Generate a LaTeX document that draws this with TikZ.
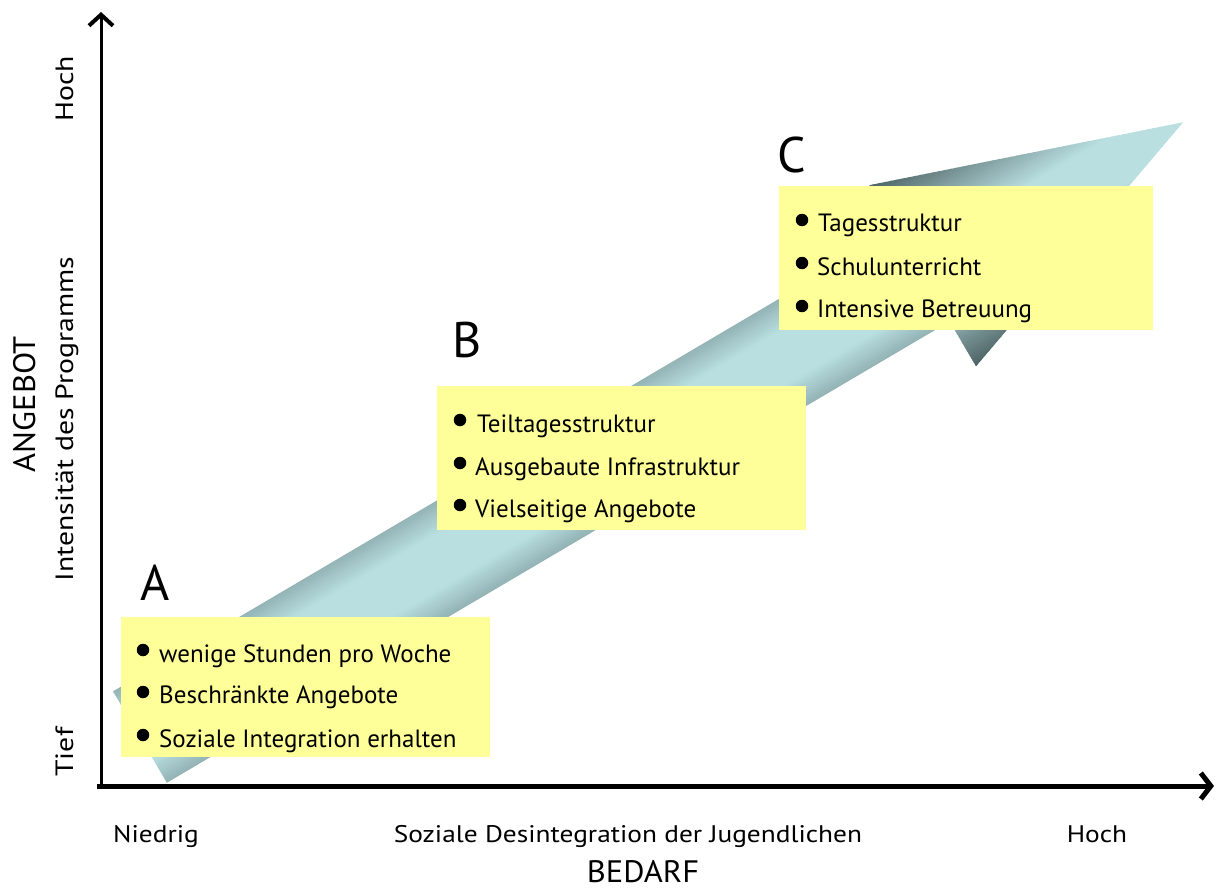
\documentclass[tikz,border=0pt]{standalone}
\usepackage{fontspec}
\setmainfont{PT Sans}
\newfontfamily\hlblfont[FakeStretch=1.14]{PT Sans}
\newfontfamily\vlblfont[FakeStretch=1.19]{PT Sans}
\newfontfamily\ttlfont[FakeStretch=1.05]{PT Sans}
\usetikzlibrary{arrows.meta}
\definecolor{boxyellow}{HTML}{FFFF99}
\definecolor{arrlight}{HTML}{B9DFE1}
\definecolor{arrdark}{HTML}{4F6466}
\tikzset{
  ybox/.style={fill=boxyellow, draw=none, inner sep=0pt, anchor=north west},
  itemtext/.style={anchor=base west, inner sep=0pt, font=\fontsize{25}{30}\selectfont},
  bulletdot/.style={circle, fill=black, inner sep=0pt, minimum size=12.5pt},
  letter/.style={anchor=base, inner sep=0pt, font=\fontsize{50}{60}\selectfont},
  hlabel/.style={inner sep=0pt, anchor=base, font=\hlblfont\fontsize{24}{28}\selectfont},
  vlabel/.style={inner sep=0pt, anchor=base, rotate=90, font=\vlblfont\fontsize{25}{30}\selectfont},
  axistitle/.style={inner sep=0pt, anchor=base, text depth=0pt, font=\ttlfont\fontsize{31}{36}\selectfont},
}
\begin{document}
\begin{tikzpicture}[x=1pt,y=-1pt]
\useasboundingbox (0,0) rectangle (1219,888);

% ---- shaded 3D arrow (drawn in its own axis frame) ----
\begin{scope}[shift={(140,737)}, x={(0.862pt,0.508pt)}, y={(0.508pt,-0.862pt)}]
  \begin{scope}
    \clip (0,-53) -- (908,-53) -- (908,-105) -- (1210,0) -- (908,105) -- (908,53) -- (0,53) -- cycle;
    \foreach \v in {-108,-106,...,106} {
      \pgfmathtruncatemacro\p{min(100,max(0,(abs(\v+1)-24)/80*100))}
      \fill[arrdark!\p!arrlight] (-10,\v) -- (1220,\v) -- (1220,\v+2.6) -- (-10,\v+2.6) -- cycle;
    }
  \end{scope}
\end{scope}

% ---- boxes ----
\node[ybox, minimum width=369pt, minimum height=140pt] (boxA) at (121,617) {};
\node[ybox, minimum width=369pt, minimum height=144pt] (boxB) at (437,386) {};
\node[ybox, minimum width=374pt, minimum height=144pt] (boxC) at (779,186) {};

% ---- letters ----
\node[letter] (labA) at (155,600) {A};
\node[letter] (labB) at (467,357) {B};
\node[letter] (labC) at (792,173) {C};

% ---- items A ----
\node[bulletdot] (a1b) at (143,650) {};
\node[bulletdot] (a2b) at (143,692) {};
\node[bulletdot] (a3b) at (143,735) {};
\node[itemtext] (a1) at (159,662) {wenige Stunden pro Woche};
\node[itemtext] (a2) at (159,703) {Beschränkte Angebote};
\node[itemtext] (a3) at (159,747) {Soziale Integration erhalten};

% ---- items B ----
\node[bulletdot] (b1b) at (460,420) {};
\node[bulletdot] (b2b) at (460,463) {};
\node[bulletdot] (b3b) at (460,505) {};
\node[itemtext] (b1) at (477,432) {Teiltagesstruktur};
\node[itemtext] (b2) at (475,475) {Ausgebaute Infrastruktur};
\node[itemtext] (b3) at (475,517) {Vielseitige Angebote};

% ---- items C ----
\node[bulletdot] (c1b) at (802,220) {};
\node[bulletdot] (c2b) at (802,263) {};
\node[bulletdot] (c3b) at (802,306) {};
\node[itemtext] (c1) at (818,232) {Tagesstruktur};
\node[itemtext] (c2) at (817,275) {Schulunterricht};
\node[itemtext] (c3) at (817,317) {Intensive Betreuung};

% ---- axes ----
\coordinate (origin) at (101,787);
\coordinate (xstart) at (97,786);
\coordinate (ytop) at (101,12);
\coordinate (xend) at (1214,786);
\draw[line width=3pt, -{Straight Barb[length=11pt,width=24pt,line width=4pt]}] (origin) -- (ytop);
\draw[line width=5pt, -{Straight Barb[length=10pt,width=26pt,line width=5pt]}] (xstart) -- (xend);

% ---- axis labels ----
\node[hlabel] (niedrig) at (156,842) {Niedrig};
\node[hlabel] (xdesc) at (628,842) {Soziale Desintegration der Jugendlichen};
\node[hlabel] (xhoch) at (1097,842) {Hoch};
\node[axistitle] (bedarf) at (643,882) {BEDARF};
\node[vlabel] (yhoch) at (73,89) {Hoch};
\node[vlabel] (ytief) at (73,752) {Tief};
\node[vlabel] (ydesc) at (73,419) {Intensität des Programms};
\node[axistitle, rotate=90] (angebot) at (35,404) {ANGEBOT};
\end{tikzpicture}
\end{document}
